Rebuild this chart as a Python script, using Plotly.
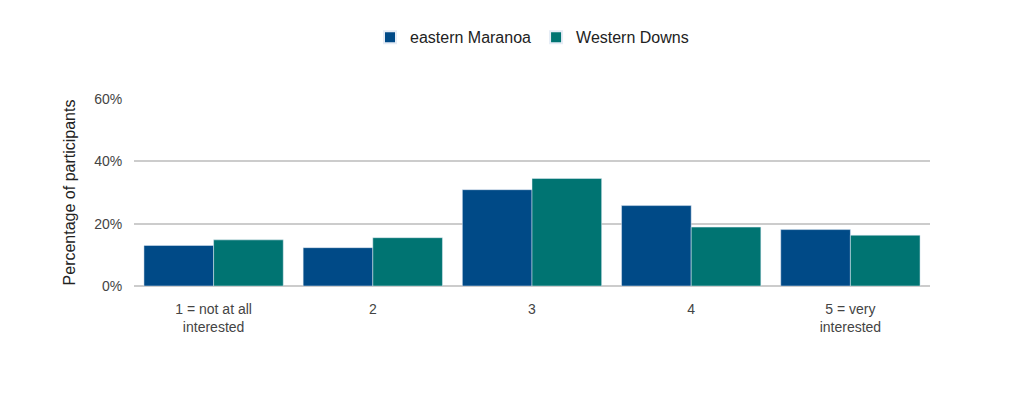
import plotly.graph_objects as go

categories = ["1 = not at all<br>interested", "2", "3", "4", "5 = very<br>interested"]
eastern_maranoa = [13.0, 12.3, 30.9, 25.8, 18.1]
western_downs = [14.8, 15.5, 34.5, 18.9, 16.3]

fig = go.Figure()
fig.add_bar(x=categories, y=eastern_maranoa, name="eastern Maranoa", marker_color="#004a87")
fig.add_bar(x=categories, y=western_downs, name="Western Downs", marker_color="#007472")
fig.update_layout(
    width=1024, height=411, barmode="group", bargap=0.125, bargroupgap=0,
    plot_bgcolor="white", paper_bgcolor="white",
    font=dict(family="Arial, Liberation Sans", size=14, color="#444"),
    margin=dict(l=126, r=102, t=86, b=133),
    legend=dict(orientation="h", x=0.5, xanchor="center", y=1.33, yanchor="middle",
                font=dict(size=16, color="#222"), itemsizing="constant"),
    xaxis=dict(showline=False, ticks="outside", ticklen=10, tickcolor="rgba(0,0,0,0)"),
    yaxis=dict(range=[0, 60], dtick=20, ticksuffix="%", gridcolor="#cccccc", gridwidth=1.5,
               zeroline=True, zerolinecolor="#cccccc", zerolinewidth=1.5,
               ticks="outside", ticklen=8, tickcolor="rgba(0,0,0,0)",
               title=dict(text="Percentage of participants", standoff=14,
                          font=dict(size=16, color="#222"))),
)
fig.write_html("out.html")
